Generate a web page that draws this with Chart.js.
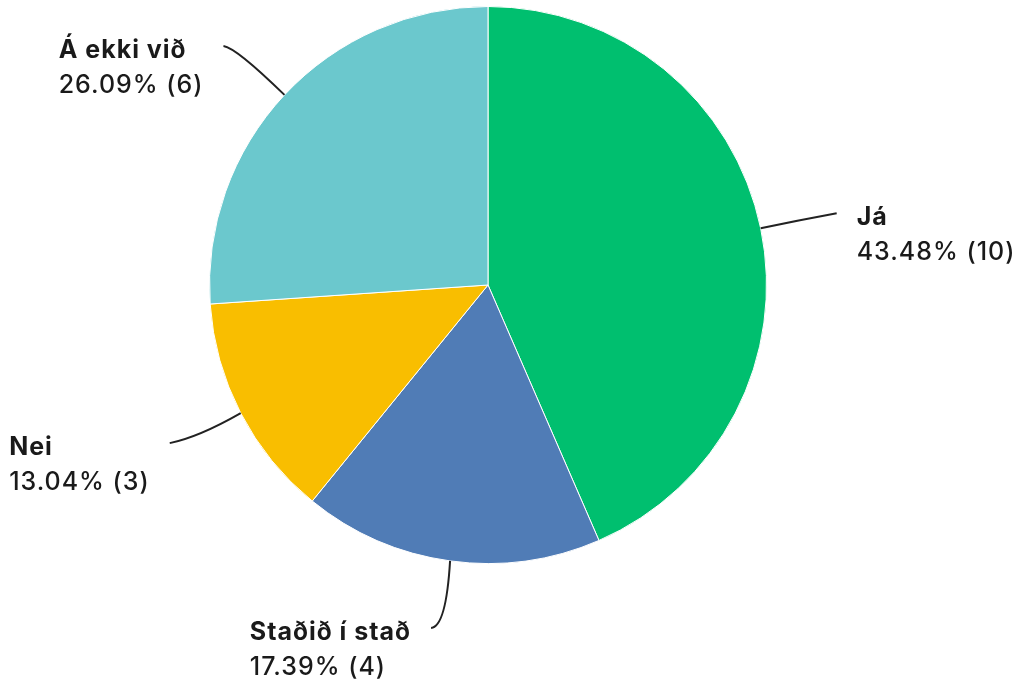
<!DOCTYPE html>
<html>
<head>
<meta charset="utf-8">
<script src="https://cdn.jsdelivr.net/npm/chart.js@4/dist/chart.umd.min.js"></script>
<style>
  html, body { margin: 0; padding: 0; background: #fff; }
  #wrap { width: 1020px; height: 680px; }
</style>
</head>
<body>
<div id="wrap"><canvas id="c" width="1020" height="680"></canvas></div>
<script>
// answers, counts, percentages (as printed), slice colours
const LABELS = ["Já", "Staðið í stað", "Nei", "Á ekki við"];
const COUNTS = [10, 4, 3, 6];
const PERCENTS = ["43.48%", "17.39%", "13.04%", "26.09%"];
const COLORS = ["#00BF6F", "#507CB6", "#F9BE00", "#6BC8CD"];

const FONT = "Inter, 'Noto Sans', sans-serif";
const INK = "#1a1a1a";

// leader line geometry per slice, relative to the point on the rim:
// end = where the line stops, ctrl = quadratic control point, side = text side
const LEADERS = [
  { end: [76, -15], ctrl: [38, -8], side: 1 },
  { end: [-19, 67], ctrl: [-4, 66], side: -1 },
  { end: [-71, 30], ctrl: [-42, 24], side: -1 },
  { end: [-61, -49], ctrl: [-48, -47], side: -1 },
];

const outerLabels = {
  id: "outerLabels",
  afterDatasetsDraw(chart) {
    const ctx = chart.ctx;
    const arcs = chart.getDatasetMeta(0).data;
    ctx.save();
    ctx.letterSpacing = "1px";
    arcs.forEach((arc, i) => {
      const { x, y, startAngle, endAngle, outerRadius } = arc.getProps(
        ["x", "y", "startAngle", "endAngle", "outerRadius"], true);
      const mid = (startAngle + endAngle) / 2;
      const ex = x + Math.cos(mid) * outerRadius;
      const ey = y + Math.sin(mid) * outerRadius;
      const L = LEADERS[i];
      const tx = ex + L.end[0], ty = ey + L.end[1];

      ctx.beginPath();
      ctx.moveTo(ex, ey);
      ctx.quadraticCurveTo(ex + L.ctrl[0], ey + L.ctrl[1], tx, ty);
      ctx.strokeStyle = "#222";
      ctx.lineWidth = 2;
      ctx.stroke();

      const name = LABELS[i];
      const val = `${PERCENTS[i]} (${COUNTS[i]})`;
      ctx.font = `700 25px ${FONT}`;
      const w1 = ctx.measureText(name).width;
      ctx.font = `500 25px ${FONT}`;
      const w2 = ctx.measureText(val).width;
      const bw = Math.max(w1, w2);
      const left = L.side > 0 ? tx + 20 : tx - 20 - bw;

      ctx.fillStyle = INK;
      ctx.textAlign = "left";
      ctx.textBaseline = "alphabetic";
      ctx.font = `700 25px ${FONT}`;
      ctx.fillText(name, left, ty + 12);
      ctx.font = `500 25px ${FONT}`;
      ctx.fillText(val, left, ty + 47);
    });
    ctx.restore();
  },
};

new Chart(document.getElementById("c"), {
  type: "pie",
  data: {
    labels: LABELS,
    datasets: [{
      data: COUNTS,
      backgroundColor: COLORS,
      borderColor: "#ffffff",
      borderWidth: 1,
    }],
  },
  options: {
    responsive: false,
    animation: false,
    layout: { padding: { left: 209, right: 253, top: 6, bottom: 116 } },
    plugins: {
      legend: { display: false },
      tooltip: { enabled: false },
    },
  },
  plugins: [outerLabels],
});
</script>
</body>
</html>
